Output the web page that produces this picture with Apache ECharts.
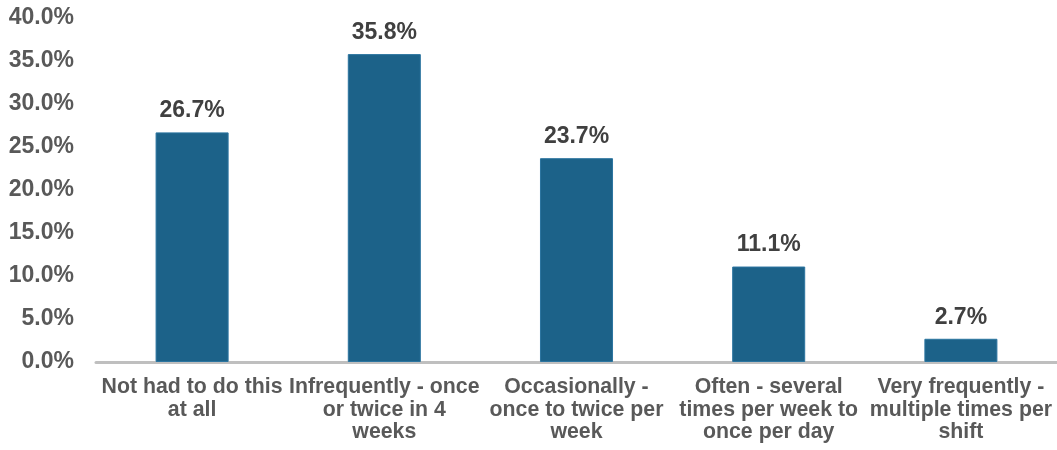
<!DOCTYPE html>
<html>
<head>
<meta charset="utf-8">
<script src="https://cdn.jsdelivr.net/npm/echarts@6/dist/echarts.min.js"></script>
<style>html,body{margin:0;padding:0;background:#fff}#c{width:1057px;height:450px}</style>
</head>
<body>
<div id="c"></div>
<script>
const categories = [
  "Not had to do this\nat all",
  "Infrequently - once\nor twice in 4\nweeks",
  "Occasionally -\nonce to twice per\nweek",
  "Often - several\ntimes per week to\nonce per day",
  "Very frequently -\nmultiple times per\nshift"
];
const values = [26.7, 35.8, 23.7, 11.1, 2.7];
const yTicks = { min: 0, max: 40, interval: 5 };

const chart = echarts.init(document.getElementById('c'), null, { renderer: 'canvas' });
chart.setOption({
  animation: false,
  grid: { left: 96, right: 0, top: 18, bottom: 88, containLabel: false },
  xAxis: {
    type: 'category',
    data: categories,
    axisLine: { lineStyle: { color: '#BFBFBF', width: 3 } },
    axisTick: { show: false },
    axisLabel: {
      interval: 0, margin: 14, color: '#595959',
      fontFamily: 'Liberation Sans, Arial, sans-serif', fontWeight: 'bold', fontSize: 21.3, lineHeight: 22.5
    }
  },
  yAxis: {
    type: 'value', min: yTicks.min, max: yTicks.max, interval: yTicks.interval,
    splitLine: { show: false },
    axisLine: { show: false }, axisTick: { show: false },
    axisLabel: {
      margin: 22, color: '#595959',
      fontFamily: 'Liberation Sans, Arial, sans-serif', fontWeight: 'bold', fontSize: 23,
      formatter: v => v.toFixed(1) + '%'
    }
  },
  series: [{
    type: 'bar', data: values, barWidth: '38%',
    itemStyle: { color: '#1C6289', borderColor: '#2C75A0', borderWidth: 1 },
    label: {
      show: true, position: 'top', distance: 10, color: '#404040',
      fontFamily: 'Liberation Sans, Arial, sans-serif', fontWeight: 'bold', fontSize: 23,
      formatter: p => p.value.toFixed(1) + '%'
    }
  }]
});
</script>
</body>
</html>
